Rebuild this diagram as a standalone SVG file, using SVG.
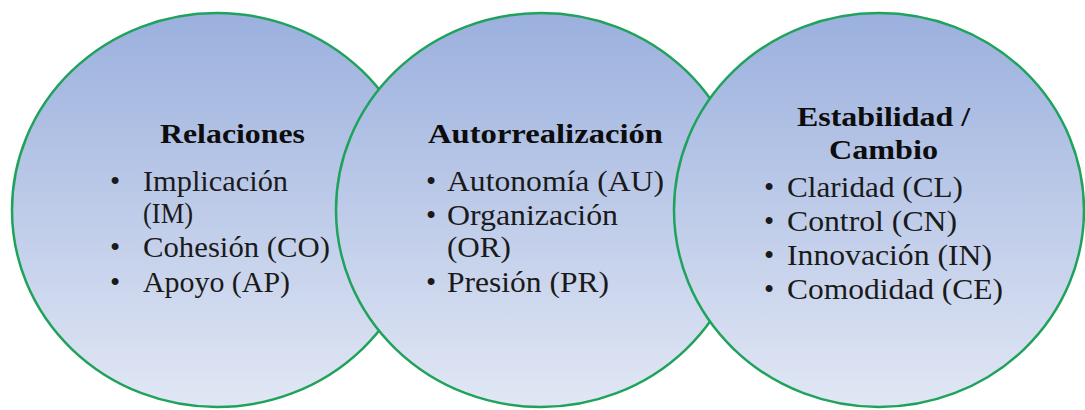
<svg xmlns="http://www.w3.org/2000/svg" width="1085" height="410" viewBox="0 0 1085 410">
<style>
.circ{fill:url(#g);stroke:#1fa35c;stroke-width:2.5}
.t{font-family:'Liberation Serif','Times New Roman',serif;font-weight:bold;font-size:28px;fill:#0d0d0d}
.b{font-family:'Liberation Serif','Times New Roman',serif;font-size:29px;fill:#1a1a1a}
.d{font-family:'Liberation Serif','Times New Roman',serif;font-size:29px;fill:#1a1a1a;text-anchor:middle}
</style>
<defs>
<linearGradient id="g" x1="0" y1="0" x2="0" y2="1">
<stop offset="0" stop-color="#9bb0de"/>
<stop offset="1" stop-color="#e1e7f4"/>
</linearGradient>
</defs>
<rect width="1085" height="410" fill="#ffffff"/>
<g id="node-relaciones">
<ellipse class="circ" cx="217" cy="210" rx="205" ry="197"/>
<text class="t" x="160" y="143" textLength="145" lengthAdjust="spacingAndGlyphs">Relaciones</text>
<text class="d" x="115" y="191">•</text>
<text class="b" x="143" y="191" textLength="145" lengthAdjust="spacingAndGlyphs">Implicación</text>
<text class="b" x="143" y="223" textLength="50" lengthAdjust="spacingAndGlyphs">(IM)</text>
<text class="d" x="115" y="257">•</text>
<text class="b" x="143" y="257" textLength="187" lengthAdjust="spacingAndGlyphs">Cohesión (CO)</text>
<text class="d" x="115" y="292">•</text>
<text class="b" x="143" y="292" textLength="147" lengthAdjust="spacingAndGlyphs">Apoyo (AP)</text>
</g>
<g id="node-autorrealizacion">
<ellipse class="circ" cx="541" cy="210" rx="205" ry="197"/>
<text class="t" x="428" y="143" textLength="235" lengthAdjust="spacingAndGlyphs">Autorrealización</text>
<text class="d" x="431" y="191">•</text>
<text class="b" x="447" y="191" textLength="217" lengthAdjust="spacingAndGlyphs">Autonomía (AU)</text>
<text class="d" x="431" y="225">•</text>
<text class="b" x="447" y="225" textLength="171" lengthAdjust="spacingAndGlyphs">Organización</text>
<text class="b" x="447" y="257" textLength="64" lengthAdjust="spacingAndGlyphs">(OR)</text>
<text class="d" x="431" y="292">•</text>
<text class="b" x="447" y="292" textLength="162" lengthAdjust="spacingAndGlyphs">Presión (PR)</text>
</g>
<g id="node-estabilidad">
<ellipse class="circ" cx="879" cy="210" rx="205" ry="197"/>
<text class="t" x="797" y="126" textLength="173" lengthAdjust="spacingAndGlyphs">Estabilidad /</text>
<text class="t" x="829" y="159" textLength="109" lengthAdjust="spacingAndGlyphs">Cambio</text>
<text class="d" x="769" y="197">•</text>
<text class="b" x="787" y="197" textLength="176" lengthAdjust="spacingAndGlyphs">Claridad (CL)</text>
<text class="d" x="769" y="231">•</text>
<text class="b" x="787" y="231" textLength="170" lengthAdjust="spacingAndGlyphs">Control (CN)</text>
<text class="d" x="769" y="265">•</text>
<text class="b" x="787" y="265" textLength="205" lengthAdjust="spacingAndGlyphs">Innovación (IN)</text>
<text class="d" x="769" y="299">•</text>
<text class="b" x="787" y="299" textLength="216" lengthAdjust="spacingAndGlyphs">Comodidad (CE)</text>
</g>
<g id="connectors"/>
</svg>
